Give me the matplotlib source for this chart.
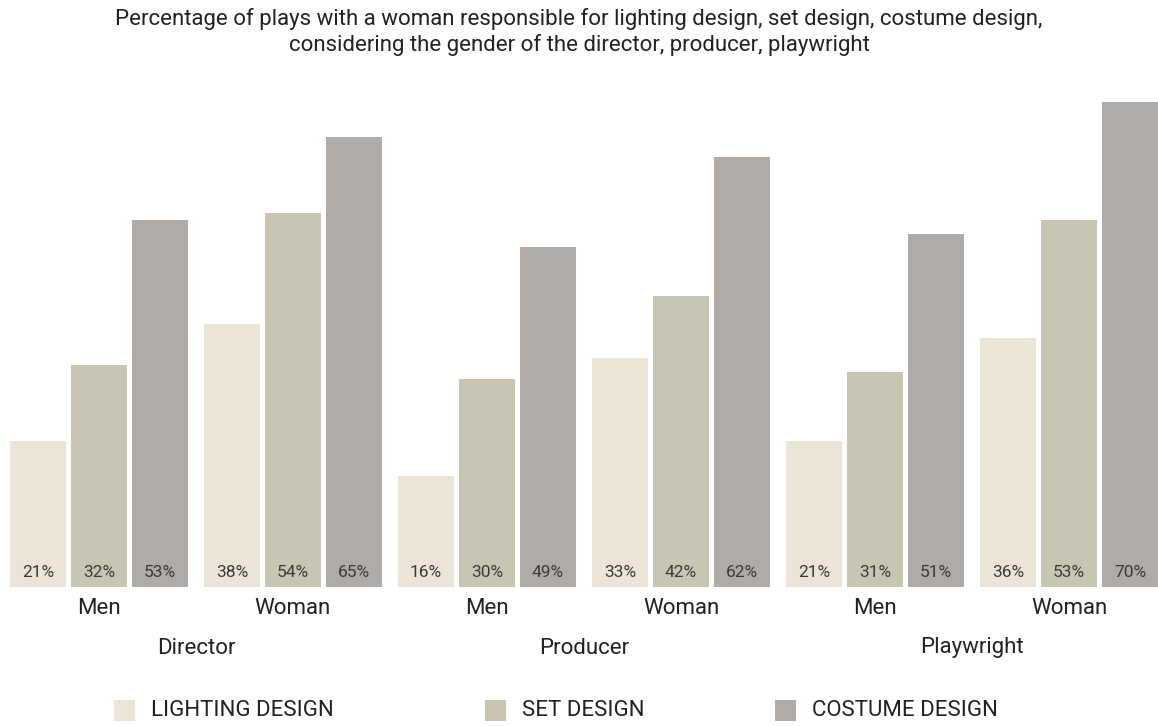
import matplotlib.pyplot as plt
from matplotlib.patches import Rectangle
import numpy as np

plt.rcParams['font.family'] = ['Roboto', 'DejaVu Sans']

# Data
roles = ['Director', 'Producer', 'Playwright']
genders = ['Men', 'Woman']
series = ['LIGHTING DESIGN', 'SET DESIGN', 'COSTUME DESIGN']
lighting = [21, 38, 16, 33, 21, 36]
set_design = [32, 54, 30, 42, 31, 53]
costume = [53, 65, 49, 62, 51, 70]
colors = ['#EAE5D6', '#C8C6B3', '#B0ABA7']
text_color = '#222222'

W, H = 1158, 726
fig = plt.figure(figsize=(W / 100, H / 100), dpi=100)
ax = fig.add_axes([10 / W, 139 / H, 1 - 10 / W, 1 - 139 / H])

step = 194.4 / 61  # group pitch in bar units
width = 56 / 61
values = [lighting, set_design, costume]
groups = np.arange(len(lighting)) * step

for s, vals in enumerate(values):
    xs = groups + s
    ax.bar(xs, vals, width=width, align='edge', color=colors[s], linewidth=0)
    for x, v in zip(xs, vals):
        ax.text(x + width / 2, 2.1, f'{v}%', ha='center', va='center',
                fontsize=12.5, color='#3a3a3a')

ax.set_xlim(0, groups[-1] + 2 + width)
ax.set_ylim(0, 587 / 6.93)
ax.axis('off')

trans = ax.get_xaxis_transform()
# gender labels
for i, g in enumerate(groups):
    ax.text(g + 1 + width / 2, -22 / 587, genders[i % 2], transform=trans,
            ha='center', va='center', fontsize=16, color=text_color)
# role labels
for r, role in enumerate(roles):
    c = (groups[2 * r] + groups[2 * r + 1] + 2 + width) / 2
    ax.text(c, -61 / 587, role, transform=trans, ha='center', va='center',
            fontsize=16, color=text_color)

fig.text(0.5, 1 - 19 / H,
         'Percentage of plays with a woman responsible for lighting design, set design, costume design,',
         ha='center', va='center', fontsize=16, color=text_color)
fig.text(0.5, 1 - 45 / H,
         'considering the gender of the director, producer, playwright',
         ha='center', va='center', fontsize=16, color=text_color)

# legend
leg_x = [114, 485, 775]
for lx, name, col in zip(leg_x, series, colors):
    fig.patches.append(Rectangle((lx / W, (H - 721) / H), 21 / W, 21 / H,
                                 transform=fig.transFigure, color=col, linewidth=0))
    fig.text((lx + 37) / W, (H - 711) / H, name, ha='left', va='center',
             fontsize=16, color=text_color)

fig.savefig('out.png', dpi=100)
